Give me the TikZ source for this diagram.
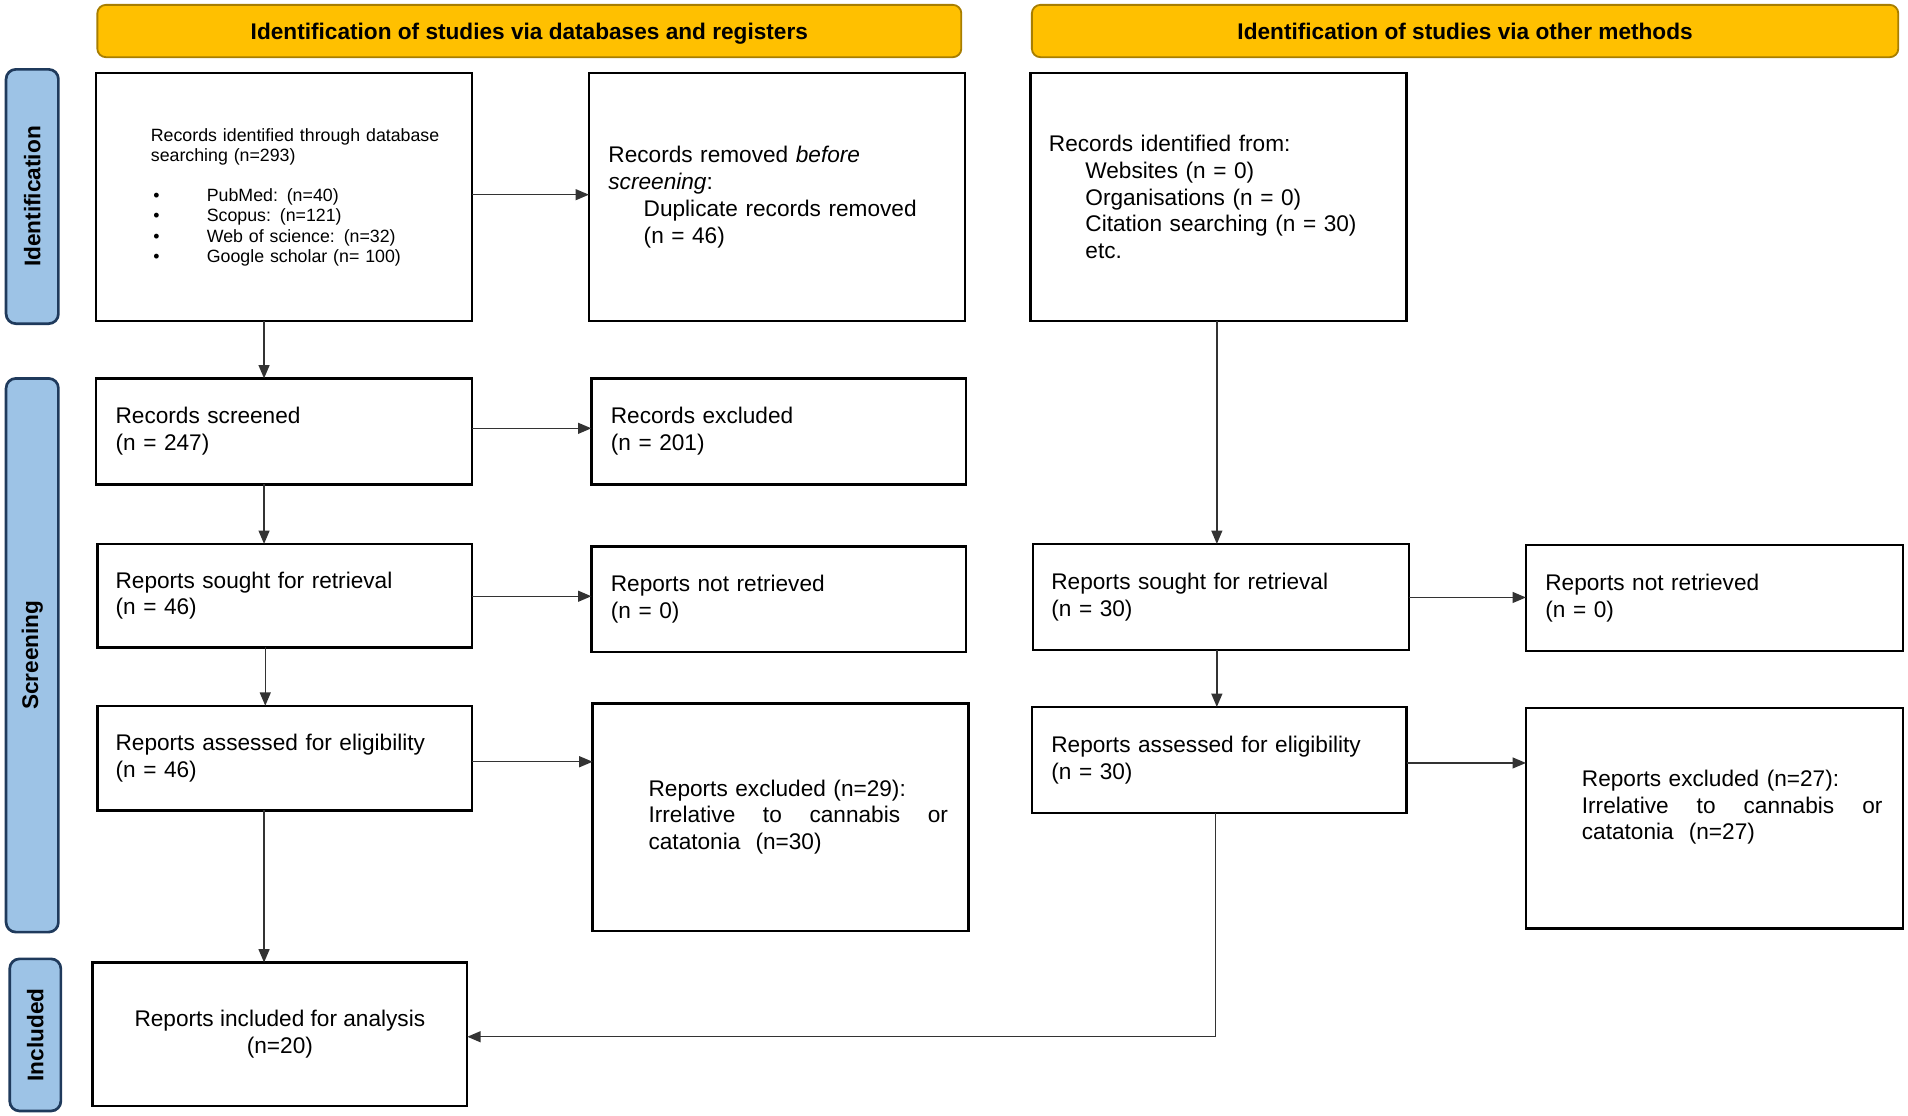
\documentclass[tikz,border=0pt]{standalone}
\usepackage{fontspec}
\setmainfont{Liberation Sans}
\usetikzlibrary{arrows.meta,calc}
\definecolor{hdrfill}{HTML}{FFC000}
\definecolor{hdrdraw}{HTML}{A87E00}
\definecolor{sidefill}{HTML}{9DC3E6}
\definecolor{sidedraw}{HTML}{1F3A5C}
\definecolor{arrgray}{HTML}{333333}
\begin{document}
\begin{tikzpicture}[x=1pt,y=-1pt,
  every node/.style={font=\fontsize{18.6}{22}\selectfont, outer sep=0pt, text=black},
  box/.style={draw=black, line width=2pt, fill=white, inner ysep=0pt, inner xsep=16pt, align=left},
  hdr/.style={draw=hdrdraw, line width=1.5pt, fill=hdrfill, rounded corners=7pt,
              font=\bfseries\fontsize{18.6}{22}\selectfont, align=center, inner sep=0pt,
              text height=16pt, text depth=2.5pt},
  side/.style={draw=sidedraw, line width=2.2pt, fill=sidefill, rounded corners=8pt,
               font=\bfseries\fontsize{18.6}{22}\selectfont, rotate=90, inner sep=0pt},
  arr/.style={draw=arrgray, line width=1.2pt, -{Triangle[length=11pt,width=9pt]}},
  ln/.style={draw=arrgray, line width=1.2pt}
]
\useasboundingbox (0,0) rectangle (1568,917);

% headers
\node[hdr, minimum width=710pt, minimum height=43pt] (h1) at (435,25.5)
  {Identification of studies via databases and registers};
\node[hdr, minimum width=712pt, minimum height=43pt] (h2) at (1204,25.5)
  {Identification of studies via other methods};

% side labels
\node[side, minimum width=209pt, minimum height=43pt] (s1) at (26.5,161.5) {Identification};
\node[side, minimum width=455pt, minimum height=43pt] (s2) at (26.5,538.5) {Screening};
\node[side, minimum width=125pt, minimum height=42pt] (s3) at (29,850.5) {Included};

% boxes
\node[box, text width=277pt, minimum height=204pt,
      font=\fontsize{14.6}{16.6}\selectfont] (A) at (233.5,162)
  {\hspace*{29pt}Records identified through database\\
   \hspace*{29pt}searching (n=293)\\[16.5pt]
   \hspace*{31pt}\makebox[44pt][l]{\textbullet}PubMed: (n=40)\\
   \hspace*{31pt}\makebox[44pt][l]{\textbullet}Scopus: (n=121)\\
   \hspace*{31pt}\makebox[44pt][l]{\textbullet}Web of science: (n=32)\\
   \hspace*{31pt}\makebox[44pt][l]{\textbullet}Google scholar (n= 100)};

\node[box, text width=277pt, minimum height=204pt] (B) at (638.5,162)
  {Records removed \textit{before}\\
   \textit{screening}:\\
   \hspace*{29pt}Duplicate records removed\\
   \hspace*{29pt}(n = 46)};

\node[box, inner xsep=15pt, text width=279pt, minimum height=204pt] (C) at (1001.5,162)
  {Records identified from:\\
   \hspace*{30pt}Websites (n = 0)\\
   \hspace*{30pt}Organisations (n = 0)\\
   \hspace*{30pt}Citation searching (n = 30)\\
   \hspace*{30pt}etc.};

\node[box, text width=277pt, minimum height=87pt] (D) at (233.5,354.5)
  {Records screened\\(n = 247)};
\node[box, text width=276pt, minimum height=87pt] (E) at (640,354.5)
  {Records excluded\\(n = 201)};

\node[box, inner xsep=15pt, text width=278pt, minimum height=85pt] (F) at (234,489.5)
  {Reports sought for retrieval\\(n = 46)};
\node[box, text width=276pt, minimum height=87pt] (G) at (640,492.5)
  {Reports not retrieved\\(n = 0)};

\node[box, inner xsep=15pt, text width=279pt, minimum height=87pt] (H) at (1003.5,490.5)
  {Reports sought for retrieval\\(n = 30)};
\node[box, text width=278pt, minimum height=87pt] (I) at (1409,491.5)
  {Reports not retrieved\\(n = 0)};

\node[box, inner xsep=15pt, text width=278pt, minimum height=86pt] (J) at (234,623)
  {Reports assessed for eligibility\\(n = 46)};
\node[box, text width=277pt, minimum height=187pt] (K) at (641.5,671.5)
  {\hspace*{30pt}Reports excluded (n=29):\\
   \hspace*{30pt}\makebox[246pt][l]{Irrelative\hfill to\hfill cannabis\hfill or}\\
   \hspace*{30pt}catatonia\ \ (n=30)};

\node[box, text width=276pt, minimum height=87pt] (L) at (1002,624.5)
  {Reports assessed for eligibility\\(n = 30)};
\node[box, text width=278pt, minimum height=181pt] (M) at (1409,672.5)
  {\hspace*{30pt}Reports excluded (n=27):\\
   \hspace*{30pt}\makebox[247pt][l]{Irrelative\hfill to\hfill cannabis\hfill or}\\
   \hspace*{30pt}catatonia\ \ (n=27)\\ \mbox{}};

\node[box, align=center, inner xsep=0pt, minimum width=308pt, minimum height=118pt] (N) at (230,850)
  {Reports included for analysis\\(n=20)};

% helper coordinates
\coordinate (xl) at (217,0);
\coordinate (xl2) at (218,0);
\coordinate (xr) at (1000,0);
\coordinate (xr2) at (999,0);
\coordinate (y1) at (0,160);
\coordinate (y2) at (0,352);
\coordinate (y3) at (0,490);
\coordinate (y4) at (0,626);
\coordinate (y5) at (0,491);
\coordinate (y6) at (0,627);
\coordinate (y7) at (0,852);

% connectors
\draw[arr] (A.south -| xl) -- (D.north -| xl);
\draw[arr] (D.south -| xl) -- (F.north -| xl);
\draw[arr] (F.south -| xl2) -- (J.north -| xl2);
\draw[arr] (J.south -| xl) -- (N.north -| xl);

\draw[arr] (A.east |- y1) -- (B.west |- y1);
\draw[arr] (D.east |- y2) -- (E.west |- y2);
\draw[arr] (F.east |- y3) -- (G.west |- y3);
\draw[arr] (J.east |- y4) -- (K.west |- y4);

\draw[arr] (C.south -| xr) -- (H.north -| xr);
\draw[arr] (H.south -| xr) -- (L.north -| xr);
\draw[arr] (H.east |- y5) -- (I.west |- y5);
\draw[arr] (L.east |- y6) -- (M.west |- y6);
\draw[arr] (L.south -| xr2) |- (N.east |- y7);

\end{tikzpicture}
\end{document}
